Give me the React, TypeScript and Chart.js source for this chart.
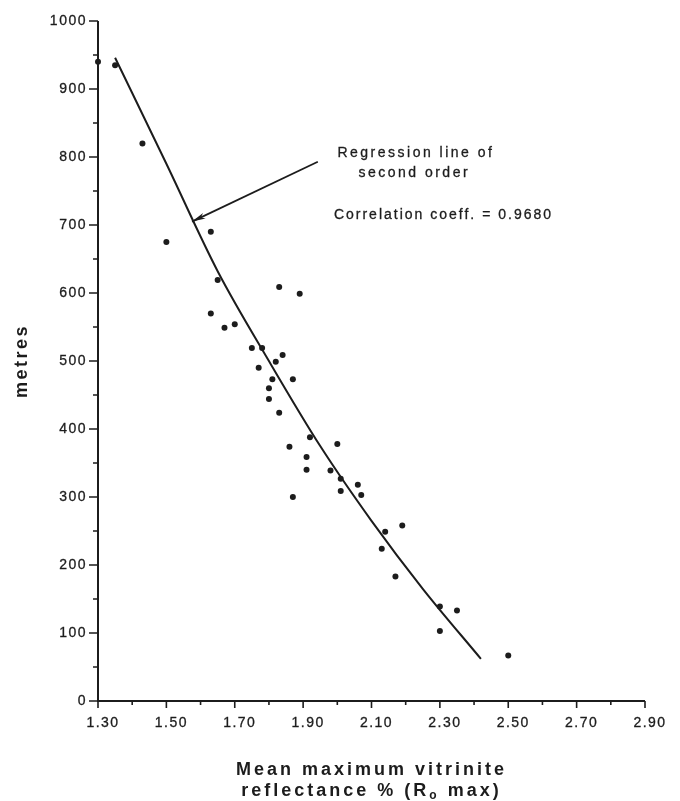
import { useEffect, useRef } from "react";
import { Chart, registerables } from "chart.js";

Chart.register(...registerables);

// Observed samples: mean maximum vitrinite reflectance (%) vs depth (metres)
const reflectance = [
  1.30, 1.35, 1.43, 1.50, 1.63, 1.65, 1.83, 1.89, 1.63, 1.67,
  1.70, 1.75, 1.78, 1.84, 1.82, 1.77, 1.81, 1.87, 1.80, 1.80,
  1.83, 1.92, 2.00, 1.86, 1.91, 1.91, 1.98, 2.01, 2.01, 2.06,
  2.07, 1.87, 2.14, 2.19, 2.13, 2.17, 2.30, 2.35, 2.30, 2.50,
];
const depthMetres = [
  940, 935, 820, 675, 690, 619, 609, 599, 570, 549,
  554, 519, 519, 509, 499, 490, 473, 473, 460, 444,
  424, 388, 378, 374, 359, 340, 339, 327, 309, 318,
  303, 300, 249, 258, 224, 183, 139, 133, 103, 67,
];

// Second-order regression line
const curveReflectance = [1.35, 1.50, 1.65, 1.80, 1.95, 2.10, 2.25, 2.42];
const curveMetres = [946, 790, 632, 500, 375, 265, 165, 62];

// Axis ticks
const xMajorTicks = [1.3, 1.5, 1.7, 1.9, 2.1, 2.3, 2.5, 2.7, 2.9];
const xMajorLabels = ["1.30", "1.50", "1.70", "1.90", "2.10", "2.30", "2.50", "2.70", "2.90"];
const xMinorTicks = [1.4, 1.6, 1.8, 2.0, 2.2, 2.4, 2.6, 2.8];
const yMajorTicks = [0, 100, 200, 300, 400, 500, 600, 700, 800, 900, 1000];
const yMajorLabels = ["0", "100", "200", "300", "400", "500", "600", "700", "800", "900", "1000"];
const yMinorTicks = [50, 150, 250, 350, 450, 550, 650, 750, 850, 950];

// Texts
const yTitle = "metres";
const xTitleLine1 = "Mean maximum vitrinite";
const xTitleLine2a = "reflectance % (R";
const xTitleSub = "o";
const xTitleLine2b = " max)";
const noteLine1 = "Regression line of";
const noteLine2 = "second order";
const noteLine3 = "Correlation coeff. = 0.9680";

// Annotation anchors in data units [reflectance, metres]
const arrowTip = [1.575, 705];
const arrowTail = [1.943, 793];
const noteLine1At = [2.23, 806];
const noteLine2At = [2.225, 776];
const noteLine3At = [1.99, 715];

const INK = "#1c1c1c";
const FONT = "'Liberation Sans', Arial, sans-serif";

function heavyText(ctx: CanvasRenderingContext2D, s: string, x: number, y: number, w = 0.3) {
  ctx.lineWidth = w;
  ctx.strokeText(s, x, y);
  ctx.fillText(s, x, y);
}

const framePlugin = {
  id: "frame",
  afterDraw(chart: any) {
    const ctx = chart.ctx as CanvasRenderingContext2D;
    const xs = chart.scales.x;
    const ys = chart.scales.y;
    const px = (v: number) => xs.getPixelForValue(v);
    const py = (v: number) => ys.getPixelForValue(v);
    ctx.save();
    ctx.strokeStyle = INK;
    ctx.fillStyle = INK;
    ctx.lineWidth = 2;
    ctx.lineCap = "butt";

    const x0 = px(1.3);
    const y0 = py(0);
    // axes
    ctx.beginPath();
    ctx.moveTo(x0, py(1000));
    ctx.lineTo(x0, y0 + 1);
    ctx.moveTo(x0 - 1, y0);
    ctx.lineTo(px(2.9), y0);
    ctx.stroke();

    // ticks
    ctx.lineWidth = 1.6;
    ctx.beginPath();
    xMajorTicks.forEach((v) => {
      ctx.moveTo(px(v), y0);
      ctx.lineTo(px(v), y0 + 7);
    });
    xMinorTicks.forEach((v) => {
      ctx.moveTo(px(v), y0);
      ctx.lineTo(px(v), y0 + 4);
    });
    yMajorTicks.forEach((v) => {
      ctx.moveTo(x0, py(v));
      ctx.lineTo(x0 - 9, py(v));
    });
    yMinorTicks.forEach((v) => {
      ctx.moveTo(x0, py(v));
      ctx.lineTo(x0 - 5, py(v));
    });
    ctx.stroke();

    // tick labels
    (ctx as any).letterSpacing = "1.5px";
    ctx.font = `14px ${FONT}`;
    ctx.textBaseline = "middle";
    ctx.textAlign = "right";
    yMajorTicks.forEach((v, i) => {
      heavyText(ctx, yMajorLabels[i], x0 - 11, py(v));
    });
    ctx.textAlign = "center";
    xMajorTicks.forEach((v, i) => {
      heavyText(ctx, xMajorLabels[i], px(v) + 5, y0 + 22);
    });

    // y title
    ctx.save();
    ctx.font = `bold 18px ${FONT}`;
    (ctx as any).letterSpacing = "2.5px";
    ctx.translate(22, (py(0) + py(1000)) / 2);
    ctx.rotate(-Math.PI / 2);
    ctx.textAlign = "center";
    ctx.fillText(yTitle, 0, 0);
    ctx.restore();

    // x title
    const cx = (px(1.3) + px(2.9)) / 2;
    ctx.font = `bold 18px ${FONT}`;
    (ctx as any).letterSpacing = "3px";
    ctx.textAlign = "left";
    const w1 = ctx.measureText(xTitleLine1).width;
    ctx.fillText(xTitleLine1, cx - w1 / 2, y0 + 69);
    const wa = ctx.measureText(xTitleLine2a).width;
    const wb = ctx.measureText(xTitleLine2b).width;
    ctx.font = `bold 12px ${FONT}`;
    const ws = ctx.measureText(xTitleSub).width;
    let sx = cx - (wa + ws + wb) / 2;
    ctx.font = `bold 18px ${FONT}`;
    ctx.fillText(xTitleLine2a, sx, y0 + 90);
    sx += wa;
    ctx.font = `bold 12px ${FONT}`;
    ctx.fillText(xTitleSub, sx, y0 + 95);
    sx += ws;
    ctx.font = `bold 18px ${FONT}`;
    ctx.fillText(xTitleLine2b, sx, y0 + 90);

    // annotation arrow
    const tx = px(arrowTip[0]);
    const ty = py(arrowTip[1]);
    const fx = px(arrowTail[0]);
    const fy = py(arrowTail[1]);
    ctx.lineWidth = 1.8;
    ctx.beginPath();
    ctx.moveTo(fx, fy);
    ctx.lineTo(tx, ty);
    ctx.stroke();
    const ang = Math.atan2(ty - fy, tx - fx);
    const hl = 14;
    const spread = 0.22;
    ctx.beginPath();
    ctx.moveTo(tx, ty);
    ctx.lineTo(tx - hl * Math.cos(ang - spread), ty - hl * Math.sin(ang - spread));
    ctx.lineTo(tx - hl * 0.7 * Math.cos(ang), ty - hl * 0.7 * Math.sin(ang));
    ctx.lineTo(tx - hl * Math.cos(ang + spread), ty - hl * Math.sin(ang + spread));
    ctx.closePath();
    ctx.fill();

    // annotation text
    ctx.font = `14px ${FONT}`;
    (ctx as any).letterSpacing = "2.5px";
    ctx.textAlign = "center";
    heavyText(ctx, noteLine1, px(noteLine1At[0]), py(noteLine1At[1]));
    heavyText(ctx, noteLine2, px(noteLine2At[0]), py(noteLine2At[1]));
    (ctx as any).letterSpacing = "2px";
    ctx.textAlign = "left";
    heavyText(ctx, noteLine3, px(noteLine3At[0]), py(noteLine3At[1]));

    ctx.restore();
  },
};

export default function App() {
  const canvasRef = useRef<HTMLCanvasElement | null>(null);

  useEffect(() => {
    if (!canvasRef.current) return;
    const chart = new Chart(canvasRef.current, {
      type: "scatter",
      data: {
        datasets: [
          {
            label: "samples",
            data: reflectance.map((x, i) => ({ x, y: depthMetres[i] })),
            pointRadius: 3,
            pointHoverRadius: 3,
            pointBackgroundColor: INK,
            pointBorderWidth: 0,
            showLine: false,
            clip: false,
          } as any,
          {
            label: "regression",
            data: curveReflectance.map((x, i) => ({ x, y: curveMetres[i] })),
            showLine: true,
            pointRadius: 0,
            borderColor: INK,
            borderWidth: 2,
            cubicInterpolationMode: "monotone",
            clip: false,
          } as any,
        ],
      },
      options: {
        responsive: false,
        animation: false,
        events: [],
        layout: { padding: { left: 0, top: 21, right: 35, bottom: 0 } },
        plugins: {
          legend: { display: false },
          tooltip: { enabled: false },
        },
        scales: {
          x: {
            type: "linear",
            min: 1.3,
            max: 2.9,
            grid: { display: false },
            border: { display: false },
            ticks: { display: false },
            afterFit: (s: any) => {
              s.height = 100;
            },
          },
          y: {
            type: "linear",
            min: 0,
            max: 1000,
            grid: { display: false },
            border: { display: false },
            ticks: { display: false },
            afterFit: (s: any) => {
              s.width = 98;
            },
          },
        },
      },
      plugins: [framePlugin],
    } as any);
    return () => chart.destroy();
  }, []);

  return (
    <div style={{ position: "absolute", left: 0, top: 0, width: 680, height: 801, background: "#fff" }}>
      <canvas ref={canvasRef} width={680} height={801} style={{ display: "block" }} />
    </div>
  );
}
